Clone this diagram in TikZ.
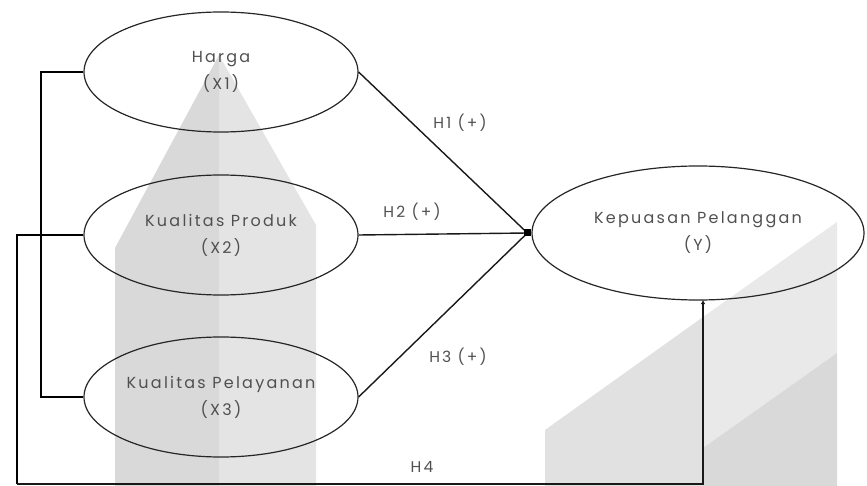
\documentclass[tikz,border=0pt]{standalone}
\usepackage{fontspec}
\setmainfont{Poppins}[LetterSpace=14]
\usetikzlibrary{shapes.geometric,arrows.meta}
\definecolor{txt}{HTML}{505050}
\definecolor{bandL}{HTML}{D9D9D9}
\definecolor{bandR}{HTML}{E4E4E4}
\definecolor{shA}{HTML}{E1E1E1}
\definecolor{shB}{HTML}{E9E9E9}
\definecolor{shC}{HTML}{D9D9D9}
\tikzset{
  var/.style={ellipse, draw=black!85, line width=1.2pt, inner sep=0pt,
    minimum width=274pt, minimum height=120pt, align=center,
    font=\fontsize{16}{27}\selectfont, text=txt},
  big/.style={var, minimum width=332pt, minimum height=134pt},
  hyp/.style={font=\fontsize{15.5}{16}\selectfont, text=txt},
  link/.style={line width=1.4pt, draw=black!90},
  bracket/.style={line width=2.6pt, draw=black},
}
\begin{document}
\begin{tikzpicture}[x=1pt,y=-1pt]
\useasboundingbox (0,0) rectangle (867,486);
% background shapes
\fill[bandL] (115,486) -- (115,248) -- (219,55) -- (219,486) -- cycle;
\fill[bandR] (219,55) -- (316,225) -- (316,486) -- (219,486) -- cycle;
\fill[shA] (545,486) -- (545,430) -- (703,317) -- (703,486) -- cycle;
\fill[shB] (703,317) -- (837,222) -- (837,353) -- (703,448) -- cycle;
\fill[shC] (703,448) -- (837,353) -- (837,486) -- (703,486) -- cycle;
% nodes
\node[var] (x1) at (221,72) {Harga\\(X1)};
\node[var] (x2) at (221,235) {Kualitas Produk\\(X2)};
\node[var] (x3) at (221,397) {Kualitas Pelayanan\\(X3)};
\node[big] (y) at (698,233) {Kepuasan Pelanggan\\(Y)};
\coordinate (j) at ([xshift=-4pt]y.west);
\coordinate (a1) at (41,72);
\coordinate (b1) at (17,235);
\coordinate (bl) at (17,484);
\coordinate (br) at (703,484);
\coordinate (bt) at (703,300);
% connectors
\draw[link] (x1.east) -- (j);
\draw[link] (x2.east) -- (j);
\draw[link] (x3.east) -- (j);
\fill[black] ([shift={(-3.5pt,-3.5pt)}]j) rectangle ([shift={(3.5pt,3.5pt)}]j);
\draw[bracket] (x1.west) -- (a1) |- (x3.west);
\draw[bracket] (x2.west) -- (b1) -- (bl);
\draw[link, line width=1.3pt, -{Latex[length=4pt,width=4.5pt]}] (bl) -- (br) -- (bt);
% labels
\node[hyp] (h1) at (460,123) {H1 (+)};
\node[hyp] (h2) at (412,212) {H2 (+)};
\node[hyp] (h3) at (458,357) {H3 (+)};
\node[hyp] (h4) at (422,467) {H4};
\end{tikzpicture}
\end{document}
